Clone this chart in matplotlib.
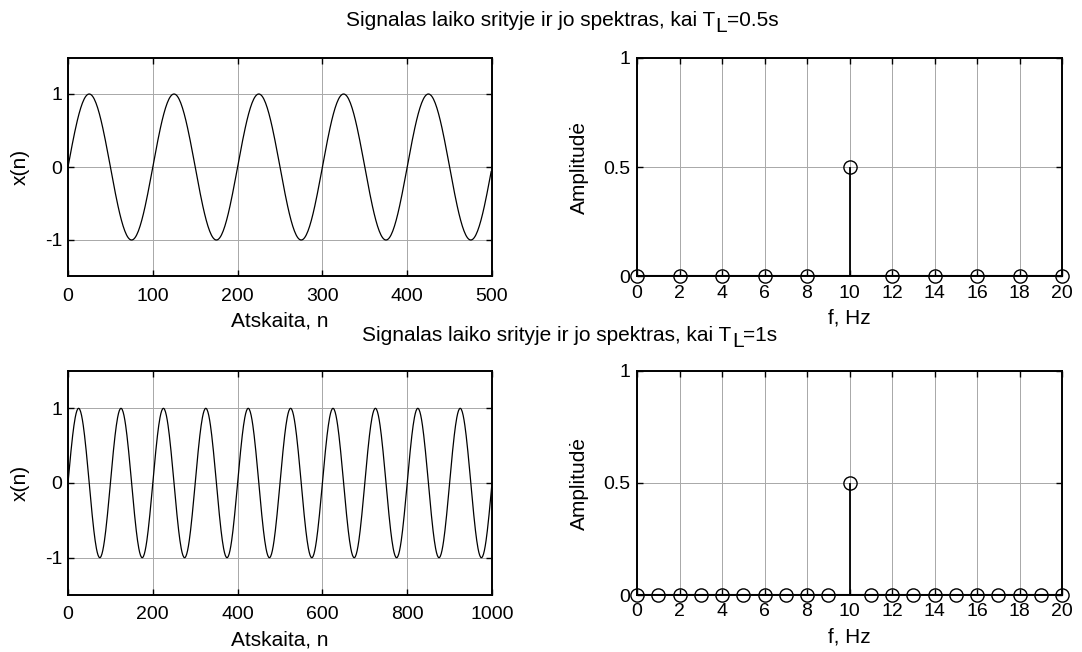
import numpy as np
import matplotlib
matplotlib.use("Agg")
import matplotlib.pyplot as plt

plt.rcParams['font.family'] = ['Liberation Sans', 'DejaVu Sans']
plt.rcParams['axes.unicode_minus'] = False

# ---- data ----
fs = 1000            # sampling rate, Hz
f0 = 10              # signal frequency, Hz
amp = 1.0
TL = [0.5, 1.0]      # record lengths, s

freq_top = [0, 2, 4, 6, 8, 10, 12, 14, 16, 18, 20]
amp_top = [0, 0, 0, 0, 0, 0.5, 0, 0, 0, 0, 0]
freq_bot = [0, 1, 2, 3, 4, 5, 6, 7, 8, 9, 10, 11, 12, 13, 14, 15, 16, 17, 18, 19, 20]
amp_bot = [0, 0, 0, 0, 0, 0, 0, 0, 0, 0, 0.5, 0, 0, 0, 0, 0, 0, 0, 0, 0, 0]

xticks_top = [0, 100, 200, 300, 400, 500]
xticks_bot = [0, 200, 400, 600, 800, 1000]
fticks = [0, 2, 4, 6, 8, 10, 12, 14, 16, 18, 20]

title_parts = [("Signalas laiko srityje ir jo spektras, kai T", "L", "=0.5s"),
               ("Signalas laiko srityje ir jo spektras, kai T", "L", "=1s")]

FS = 15
TFS = 14
W, H = 1082, 652
fig = plt.figure(figsize=(W / 100, H / 100), dpi=100)

def box(x0, y0, x1, y1):
    return [x0 / W, 1 - y1 / H, (x1 - x0) / W, (y1 - y0) / H]

def style(ax):
    ax.grid(True, color='#a8a8a8', linewidth=0.7)
    ax.set_axisbelow(True)
    ax.tick_params(direction='in', top=True, right=True, labelsize=TFS, length=4, width=1, pad=4)
    for s in ax.spines.values():
        s.set_linewidth(1.4)

rows = [(57.5, 276.5), (371, 595)]
for r, (yt, yb) in enumerate(rows):
    N = int(fs * TL[r])
    n = np.arange(N)
    x = amp * np.sin(2 * np.pi * f0 * n / fs)
    ax = fig.add_axes(box(68, yt, 492, yb))
    ax.plot(n, x, color='black', linewidth=0.9)
    ax.set_xlim(0, N)
    ax.set_ylim(-1.5, 1.5)
    ax.set_xticks(xticks_top if r == 0 else xticks_bot)
    ax.set_yticks([-1, 0, 1])
    ax.set_ylabel("x(n)", fontsize=FS, labelpad=11)
    ax.set_xlabel("Atskaita, n", fontsize=FS, labelpad=5)
    style(ax)
    ax.tick_params(axis='x', pad=8)

    fr = freq_top if r == 0 else freq_bot
    am = amp_top if r == 0 else amp_bot
    ax2 = fig.add_axes(box(637, yt if r == 0 else 371, 1062, yb))
    ml, sl, bl = ax2.stem(fr, am, linefmt='k-', markerfmt='ko', basefmt='k-')
    ml.set_markerfacecolor('none')
    ml.set_markersize(9.5)
    ml.set_markeredgewidth(1.0)
    ml.set_clip_on(False)
    sl.set_linewidth(1.3)
    bl.set_linewidth(1.5)
    ax2.set_xlim(0, 20)
    ax2.set_ylim(0, 1)
    ax2.set_xticks(fticks)
    ax2.set_yticks([0, 0.5, 1])
    ax2.set_yticklabels(["0", "0.5", "1"])
    ax2.set_ylabel("Amplitudė", fontsize=FS, labelpad=10)
    ax2.set_xlabel("f, Hz", fontsize=FS, labelpad=5)
    style(ax2)
    ax2.tick_params(axis='x', pad=6)
    ax2.tick_params(axis='y', pad=5)

# titles with a full-size, lowered subscript (MATLAB style)
renderer = fig.canvas.get_renderer()
def composite_title(cx, cy, parts):
    ts = [fig.text(0, 0, p, fontsize=FS, va='baseline', ha='left') for p in parts]
    ws = [t.get_window_extent(renderer).width for t in ts]
    total = sum(ws)
    x = cx - total / 2
    offs = [0, -6, 0]
    for t, w, o in zip(ts, ws, offs):
        t.set_position((x / W, (H - cy + o) / H))
        x += w

composite_title(562, 26, title_parts[0])
composite_title(570, 341, title_parts[1])

fig.savefig("out.png", dpi=100)
